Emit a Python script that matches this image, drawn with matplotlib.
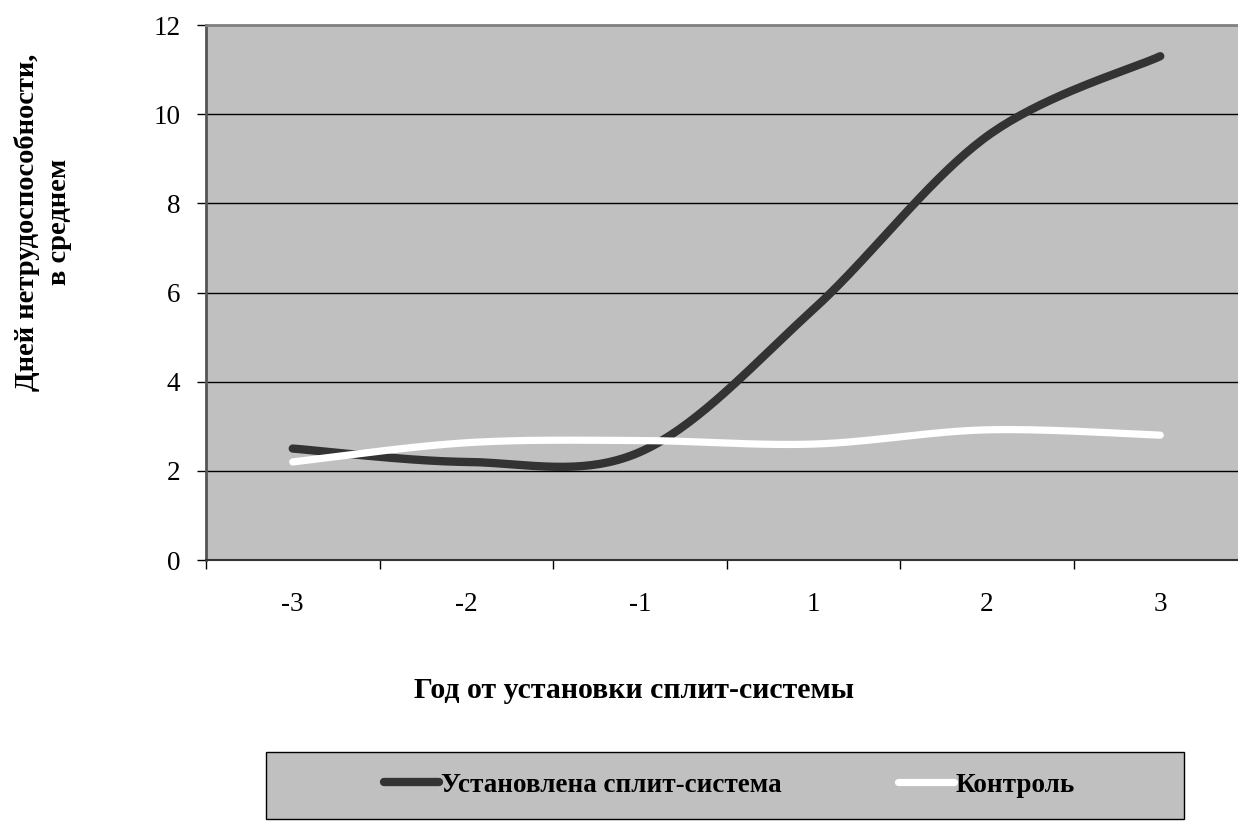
import numpy as np
import matplotlib
matplotlib.use("Agg")
import matplotlib.pyplot as plt
from matplotlib.patches import Rectangle

categories = ["-3", "-2", "-1", "1", "2", "3"]
split_system = [2.5, 2.2, 2.42, 5.62, 9.5, 11.3]
control = [2.2, 2.63, 2.68, 2.6, 2.92, 2.8]
series_names = ["Установлена сплит-система", "Контроль"]
y_ticks = [0, 2, 4, 6, 8, 10, 12]

plt.rcParams['font.family'] = ['Liberation Serif', 'DejaVu Serif']


def smooth(xs, ys, n=40):
    # Excel-like smoothed line: cubic Bezier with Catmull-Rom control points
    xs = np.asarray(xs, float)
    ys = np.asarray(ys, float)
    P = np.column_stack([xs, ys])
    out = []
    for i in range(len(P) - 1):
        p0 = P[i - 1] if i > 0 else P[i]
        p1 = P[i]
        p2 = P[i + 1]
        p3 = P[i + 2] if i + 2 < len(P) else P[i + 1]
        c1 = p1 + (p2 - p0) / 6.0
        c2 = p2 - (p3 - p1) / 6.0
        t = np.linspace(0, 1, n)[:, None]
        seg = ((1 - t) ** 3) * p1 + 3 * ((1 - t) ** 2) * t * c1 + 3 * (1 - t) * t ** 2 * c2 + t ** 3 * p2
        out.append(seg if i == 0 else seg[1:])
    s = np.vstack(out)
    return s[:, 0], s[:, 1]


W, H = 1238, 821
fig = plt.figure(figsize=(W / 100, H / 100), dpi=100)
ax = fig.add_axes([206 / W, 1 - 560 / H, (1247 - 206) / W, (560 - 25) / H])
ax.set_facecolor('#c0c0c0')

x = np.arange(len(categories))
sx, sy = smooth(x, split_system)
cx, cy = smooth(x, control)
l1, = ax.plot(sx, sy, color='#333333', lw=6.0, solid_capstyle='round', label=series_names[0], zorder=3)
l2, = ax.plot(cx, cy, color='white', lw=5.2, solid_capstyle='round', label=series_names[1], zorder=4)

ax.set_xlim(-0.5, len(categories) - 0.5)
ax.set_ylim(0, 12)
ax.set_yticks(y_ticks)
ax.set_yticklabels([str(v) for v in y_ticks], fontsize=19.5)
ax.set_xticks(np.arange(len(categories) + 1) - 0.5)
ax.set_xticklabels([])
ax.set_xticks(x, minor=True)
ax.set_xticklabels(categories, minor=True, fontsize=19.5)
ax.tick_params(axis='x', which='major', direction='out', length=6.5, width=1, color='black')
ax.tick_params(axis='x', which='minor', length=0, pad=23)
ax.tick_params(axis='y', direction='out', length=6.5, width=1, color='black', pad=12)

for v in y_ticks[1:-1]:
    ax.axhline(v, color='black', lw=1.0, zorder=1)

for side in ['top', 'right']:
    ax.spines[side].set_color('#808080')
    ax.spines[side].set_linewidth(2)
ax.spines['left'].set_color('#555555')
ax.spines['left'].set_linewidth(2)
ax.spines['bottom'].set_color('#333333')
ax.spines['bottom'].set_linewidth(1.5)

fig.text(634 / W, 1 - 690 / H, "Год от установки сплит-системы", ha='center', va='center',
         fontsize=21.5, fontweight='bold')
fig.text(43 / W, 1 - 222 / H, "Дней нетрудоспособности,\nв среднем", ha='center', va='center',
         rotation=90, fontsize=20.5, fontweight='bold', linespacing=1.4)

# legend box
fig.patches.append(Rectangle((266 / W, 1 - 819 / H), (1184 - 266) / W, (819 - 752) / H,
                             transform=fig.transFigure, facecolor='#c0c0c0', edgecolor='black',
                             lw=1.0, zorder=0))
leg = fig.legend(handles=[l1, l2], loc='center left', bbox_to_anchor=(370 / W, 1 - 785 / H),
                 ncol=2, frameon=False, handlelength=2.05, handletextpad=0.08,
                 columnspacing=4.3, borderpad=0,
                 prop={'size': 19.5, 'weight': 'bold'})

fig.savefig("out.png", dpi=100)
